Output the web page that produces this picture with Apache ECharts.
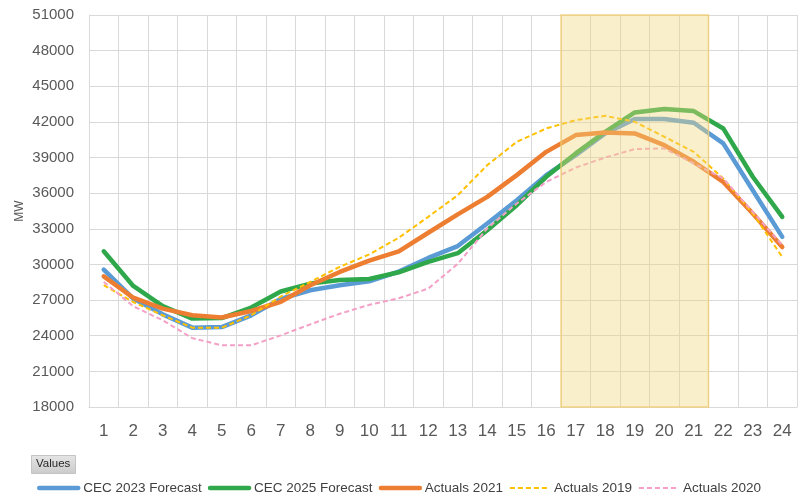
<!DOCTYPE html>
<html>
<head>
<meta charset="utf-8">
<script src="https://cdn.jsdelivr.net/npm/echarts@6/dist/echarts.min.js"></script>
<style>
  html, body { margin: 0; padding: 0; background: #fff; }
  #chart { width: 798px; height: 496px; }
</style>
</head>
<body>
<div id="chart"></div>
<script>
// hours of the day
var hours = ['1','2','3','4','5','6','7','8','9','10','11','12','13','14','15','16','17','18','19','20','21','22','23','24'];

// MW values
var cec2023 = [29570, 27130, 25800, 24680, 24730, 25720, 27100, 27830, 28250, 28580, 29400, 30550, 31550, 33450, 35410, 37520, 39200, 41030, 42240, 42240, 41930, 40190, 36250, 32320];
var cec2025 = [31110, 28190, 26500, 25440, 25490, 26370, 27720, 28390, 28700, 28770, 29340, 30210, 30950, 32880, 34990, 37380, 39350, 41170, 42800, 43080, 42910, 41450, 37380, 34000];
var act2021 = [29000, 27200, 26280, 25720, 25530, 26080, 26850, 28250, 29370, 30330, 31100, 32670, 34220, 35690, 37520, 39480, 40890, 41110, 41030, 40040, 38640, 36950, 34290, 31470];
var act2019 = [28250, 26840, 25720, 24680, 24680, 25720, 27300, 28530, 29800, 30850, 32250, 34010, 35830, 38360, 40320, 41450, 42150, 42510, 42010, 40750, 39480, 37240, 34290, 30630];
var act2020 = [28530, 26480, 25300, 23800, 23190, 23190, 24030, 24960, 25850, 26600, 27150, 27970, 30050, 33030, 35130, 36950, 38160, 39000, 39710, 39770, 38500, 37240, 34430, 31620];

// shaded peak window: hours 17..21, edge to edge of the category bands
var peakFrom = 16.5;
var peakTo = 21.5;

var yMin = 18000, yMax = 51000, yStep = 3000;

var chart = echarts.init(document.getElementById('chart'));

function solid(name, data, color) {
  return {
    name: name, type: 'line', data: data, symbol: 'none',
    itemStyle: { color: color },
    lineStyle: { color: color, width: 4.5, cap: 'round', join: 'round' }
  };
}
function dashed(name, data, color) {
  return {
    name: name, type: 'line', data: data, symbol: 'none',
    itemStyle: { color: color },
    lineStyle: { color: color, width: 2, type: [5, 3] }
  };
}

var series = [
  solid('CEC 2023 Forecast', cec2023, '#5B9BD5'),
  solid('CEC 2025 Forecast', cec2025, '#2EA84A'),
  solid('Actuals 2021', act2021, '#ED7D31'),
  dashed('Actuals 2019', act2019, '#FFC000'),
  dashed('Actuals 2020', act2020, '#F4A0C6')
];
// overlay band on a hidden numeric x axis, drawn above the lines
series.push({
  type: 'line', data: [], xAxisIndex: 1, z: 10, silent: true,
  markArea: {
    silent: true, z: 10,
    itemStyle: { color: 'rgba(243,215,125,0.4)', borderColor: 'rgba(240,205,110,0.8)', borderWidth: 1.5 },
    data: [[{ xAxis: peakFrom }, { xAxis: peakTo }]]
  }
});

var legendItems = series.slice(0, 5).map(function (s) {
  return { name: s.name, lineStyle: { width: s.lineStyle.width, type: s.lineStyle.type || 'solid' } };
});

chart.setOption({
  animation: false,
  textStyle: { fontFamily: 'Liberation Sans, Arial, sans-serif' },
  grid: { left: 89, right: 1, top: 15, bottom: 89, outerBoundsMode: 'none' },
  legend: {
    top: 476, left: 'center',
    itemWidth: 39, itemHeight: 12, itemGap: 6,
    itemStyle: { opacity: 0 },
    textStyle: { fontSize: 13.5, color: '#404040' },
    data: legendItems
  },
  graphic: [
    {
      type: 'rect', left: 31, top: 455,
      shape: { width: 44, height: 18 },
      style: {
        fill: new echarts.graphic.LinearGradient(0, 0, 0, 1, [
          { offset: 0, color: '#E6E6E6' }, { offset: 1, color: '#CACACA' }
        ]),
        stroke: '#C4C4C4', lineWidth: 1
      }
    },
    {
      type: 'text', left: 36, top: 458,
      style: { text: 'Values', fontSize: 11.5, fill: '#262626', fontFamily: 'Liberation Sans, Arial, sans-serif' }
    }
  ],
  xAxis: [{
    type: 'category', data: hours, boundaryGap: true,
    axisLine: { lineStyle: { color: '#D9D9D9' } },
    axisTick: { show: false },
    axisLabel: { fontSize: 17, color: '#595959', margin: 16 },
    splitLine: { show: true, lineStyle: { color: '#D9D9D9' } }
  }, {
    type: 'value', min: 0.5, max: 24.5, show: false
  }],
  yAxis: {
    type: 'value', min: yMin, max: yMax, interval: yStep,
    name: 'MW', nameLocation: 'middle', nameGap: 63, nameRotate: 90, nameMoveOverlap: false,
    nameTextStyle: { fontSize: 12, color: '#595959' },
    axisLine: { show: true, lineStyle: { color: '#D9D9D9' } },
    axisTick: { show: false },
    axisLabel: { fontSize: 15, color: '#595959', margin: 15, formatter: function (v) { return String(v); } },
    splitLine: { lineStyle: { color: '#D9D9D9' } }
  },
  series: series
});
</script>
</body>
</html>
